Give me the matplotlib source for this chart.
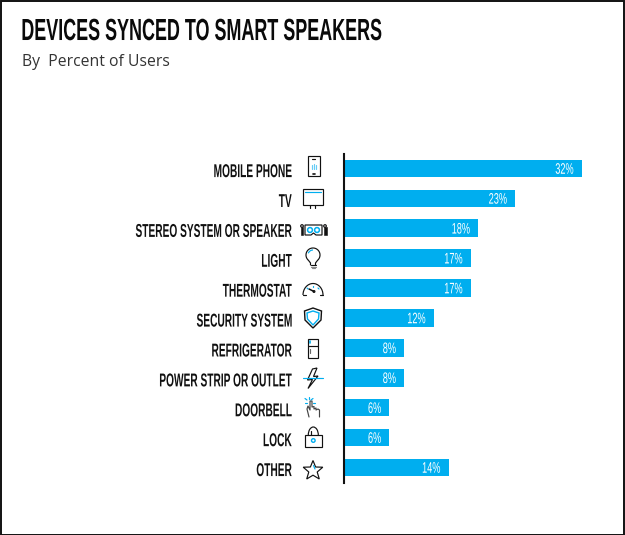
import matplotlib
matplotlib.use("Agg")
import matplotlib.pyplot as plt
from matplotlib.font_manager import FontProperties
from matplotlib.patches import Rectangle, Circle, Polygon, Arc, PathPatch
from matplotlib.lines import Line2D
from matplotlib.text import Text
from matplotlib.textpath import TextPath
from matplotlib.transforms import Affine2D, Bbox, offset_copy

categories = ["MOBILE PHONE", "TV", "STEREO SYSTEM OR SPEAKER", "LIGHT", "THERMOSTAT",
              "SECURITY SYSTEM", "REFRIGERATOR", "POWER STRIP OR OUTLET", "DOORBELL", "LOCK", "OTHER"]
values = [32, 23, 18, 17, 17, 12, 8, 8, 6, 6, 14]
value_labels = ["32%", "23%", "18%", "17%", "17%", "12%", "8%", "8%", "6%", "6%", "14%"]
title = "DEVICES SYNCED TO SMART SPEAKERS"
subtitle = "By  Percent of Users"

W, H = 625, 535
BLUE = "#00AEEF"
INK = "#111111"


class CondensedText(Text):
    """Real text whose glyphs are drawn squeezed (no condensed font is installed)."""

    def _outline(self):
        fp = self.get_fontproperties()
        path = TextPath((0, 0), self.get_text(), size=fp.get_size_in_points(), prop=fp)
        k = self.get_figure(root=True).dpi / 72
        bb = path.get_extents()
        x, y = self.get_transform().transform(self.get_unitless_position())
        ha = self.get_ha()
        anchor = {"left": bb.x0, "right": bb.x1}.get(ha, (bb.x0 + bb.x1) / 2)
        tr = (Affine2D().translate(-anchor, -(bb.y0 + bb.y1) / 2)
              .scale(self._xscale * k, self._yscale * k).translate(x, y - self._dy))
        return path, tr

    def get_window_extent(self, renderer=None, dpi=None):
        path, tr = self._outline()
        return Bbox(path.get_extents(tr))

    def draw(self, renderer):
        if not self.get_visible() or not self.get_text():
            return
        path, tr = self._outline()
        p = PathPatch(path, transform=tr, fc=self.get_color(), ec="none", lw=0)
        p.set_figure(self.get_figure(root=True))
        p.draw(renderer)


def condense(t, xscale, yscale=1.0, dy=0.0):
    t.__class__ = CondensedText
    t._xscale = xscale
    t._yscale = yscale
    t._dy = dy
    return t


fig = plt.figure(figsize=(W / 100, H / 100), dpi=100, facecolor="white")
BOLD = dict(family="Liberation Sans", weight="bold")
REG = dict(family="Liberation Sans", weight="normal")


def box(x0, y0, x1, y1):
    return [x0 / W, 1 - y1 / H, (x1 - x0) / W, (y1 - y0) / H]


ax = fig.add_axes(box(345, 154, 620, 483))
ax.barh(range(len(values)), values, height=0.59, color=BLUE, linewidth=0)
ax.set_xlim(0, 275 / 7.4)
ax.set_ylim(10.52, -0.485)
ax.set_yticks(range(len(categories)))
ax.set_yticklabels(categories)
ax.tick_params(axis="y", length=0, pad=37.4)
ax.set_xticks([])
for s in ("top", "right", "bottom"):
    ax.spines[s].set_visible(False)
ax.spines["left"].set_linewidth(1.5)
ax.spines["left"].set_color("#111111")
ax.spines["left"].set_position(("outward", 1))
ax.patch.set_alpha(0)

for lab in ax.get_yticklabels():
    lab.set_fontproperties(FontProperties(size=13.4, **BOLD))
    lab.set_color(INK)
    condense(lab, 0.546, dy=2.2)

label_tr = offset_copy(ax.transData, fig=fig, x=-8.5, y=0, units="dots")
for i, (v, t) in enumerate(zip(values, value_labels)):
    txt = ax.text(v, i, t, transform=label_tr, ha="right", va="center", color="white",
                  fontproperties=FontProperties(size=11, **REG))
    condense(txt, 0.6)

tt = fig.text(22.5 / W, 1 - 29.5 / H, title, color="#0a0a0a", ha="left", va="center",
              fontproperties=FontProperties(size=18, **BOLD))
condense(tt, 0.718, 1.222)
fig.text(22 / W, 1 - 62.5 / H, subtitle, fontfamily="Open Sans", fontsize=11.3, color="#333333",
         va="center", ha="left")

# pixel-space overlay for the pictogram column and image border
ov = fig.add_axes([0, 0, 1, 1], zorder=5)
ov.set_xlim(0, W)
ov.set_ylim(H, 0)
ov.axis("off")
ov.patch.set_alpha(0)
lw = 0.85


def R(x, y, w, h, ec=INK, fc="none", l=lw):
    ov.add_patch(Rectangle((x, y), w, h, ec=ec, fc=fc, lw=l))


def L(xs, ys, c=INK, l=lw):
    ov.add_line(Line2D(xs, ys, color=c, lw=l, solid_capstyle="round"))


def C(x, y, r, ec=INK, l=lw):
    ov.add_patch(Circle((x, y), r, ec=ec, fc="none", lw=l))


def P(pts, ec=INK, l=lw):
    ov.add_patch(Polygon(pts, closed=True, ec=ec, fc="none", lw=l))


# phone
R(308, 156, 11.5, 20)
L([312, 315], [158.5, 158.5]); L([313, 314.5], [173.5, 173.5], l=1.2)
for px, py in ((311.5, 165), (313.7, 163.5), (316, 165)):
    L([px, px], [py, 169], "#66CCF5")
# tv
R(303, 189, 19.5, 15.5); L([304.5, 321], [192, 192], BLUE); L([319.5, 320], [202, 202], l=1.2)
L([310, 310], [204.5, 208]); L([315, 315], [204.5, 208])
# stereo
P([(305, 225), (322, 225), (322, 235), (316, 235), (313.5, 233), (311, 235), (305, 235)])
C(310, 230, 2.4, BLUE, 1.1); C(317, 230, 2.4, BLUE, 1.1)
R(300.5, 227, 2.8, 8, fc=INK, l=0.4); R(323.8, 227, 2.8, 8, fc=INK, l=0.4)
C(302, 226, 1.3); C(325, 226, 1.3)
# light
ov.add_patch(Arc((313, 255), 14, 14, theta1=130, theta2=50, ec=INK, lw=lw))
L([308.5, 310.5, 310.5], [260.4, 263, 265]); L([317.5, 315.5, 315.5], [260.4, 263, 265])
L([310.5, 315.5], [265, 265]); L([310.5, 315.5], [266.6, 266.6], "#888888"); L([311.5, 314.5], [268.2, 268.2], "#888888")
ov.add_patch(Arc((313, 255), 10, 10, theta1=200, theta2=270, ec=BLUE, lw=lw))
# thermostat
ov.add_patch(Arc((313, 295), 20, 23, theta1=180, theta2=360, ec=INK, lw=lw))
L([303, 306], [295, 295]); L([320, 323], [295, 295])
L([309, 314], [289, 291.5], INK, 1.1); C(314, 291.5, 0.9)
L([313, 313], [285.5, 287], BLUE); L([307, 308], [288, 289], BLUE); L([318, 319], [288, 289], BLUE)
# security shield
P([(304.5, 311), (313, 308), (321.5, 311), (321, 320), (313, 328), (305, 320)], l=1.0)
P([(307, 313), (313, 311), (319, 313), (318.5, 319), (313, 325), (307.5, 319)], BLUE, 1.0)
# refrigerator
R(308, 338.5, 10, 19.5); L([308, 318], [346, 346]); L([310, 310], [349, 353], "#666666"); L([310, 310], [340.5, 343], BLUE, 1.2)
# power
L([303, 323], [378, 378], BLUE)
P([(312.5, 369), (307.5, 380), (312.5, 379.5), (308, 388.5), (318, 376), (313.5, 376.5), (317, 368)])
# doorbell
L([309, 307, 308, 310, 310, 312, 312, 314, 314, 316, 316, 318, 319.5, 319.5],
  [417, 409, 406, 410, 401, 401, 407, 406.5, 409, 408, 410, 409, 410, 417], "#444444")
L([309, 309], [397, 399], BLUE); L([305, 307], [398.5, 400], BLUE); L([313, 311], [398.5, 400], BLUE)
L([304.5, 307], [403, 403], BLUE); L([313, 315], [403, 403], BLUE)
# lock
R(305, 435, 16.5, 12); ov.add_patch(Arc((313.3, 435), 10, 16, theta1=180, theta2=360, ec=INK, lw=lw))
L([310.5, 310.5], [435, 431]); C(313.3, 440.5, 1.8, BLUE, 1.0)
# star
P([(313, 460.5), (315.6, 467), (322.8, 467.2), (317.2, 472), (319.3, 479), (313, 475.2),
   (306.7, 479), (308.8, 472), (303.2, 467.2), (310.4, 467)])
L([313.5, 315], [465.5, 469], BLUE)

# border
R(0.5, 0.5, 623.5, 534, ec="#111111", l=1.4)
fig.savefig("out.png", dpi=100)
